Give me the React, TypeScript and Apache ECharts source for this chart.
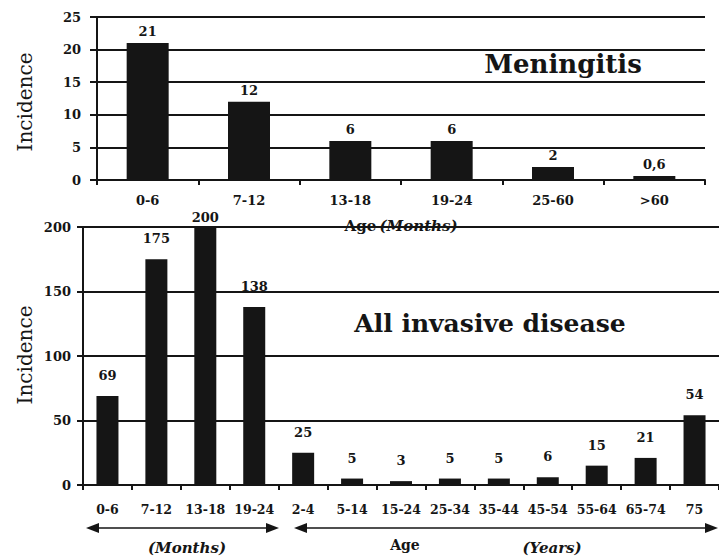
import React, { useEffect, useRef } from "react";
import * as echarts from "echarts";

const menCategories = ["0-6", "7-12", "13-18", "19-24", "25-60", ">60"];
const menValues = [21, 12, 6, 6, 2, 0.6];
const menTicks = [0, 5, 10, 15, 20, 25];

const allCategories = ["0-6", "7-12", "13-18", "19-24", "2-4", "5-14", "15-24", "25-34", "35-44", "45-54", "55-64", "65-74", "75"];
const allValues = [69, 175, 200, 138, 25, 5, 3, 5, 5, 6, 15, 21, 54];
const allTicks = [0, 50, 100, 150, 200];

const LBL = "DejaVu Serif";
const INK = "#151515";

export default function App() {
  const ref = useRef<HTMLDivElement>(null);
  useEffect(() => {
    if (!ref.current) return;
    const chart = echarts.init(ref.current, undefined, { renderer: "svg" });
    const axisLine = { show: true, lineStyle: { color: INK, width: 2 } };
    const split = { show: true, lineStyle: { color: INK, width: 2 } };
    const labelFont = { fontFamily: LBL, fontWeight: "bold" as const, fontSize: 13, color: INK };

    const arrowLine = (x1: number, x2: number, y: number) => [
      { type: "line", shape: { x1: x1 + 6, y1: y, x2: x2 - 6, y2: y }, style: { stroke: INK, lineWidth: 1.5 } },
      { type: "polygon", shape: { points: [[x1, y], [x1 + 13, y - 5], [x1 + 13, y + 5]] }, style: { fill: INK } },
      { type: "polygon", shape: { points: [[x2, y], [x2 - 13, y - 5], [x2 - 13, y + 5]] }, style: { fill: INK } },
    ];
    const txt = (
      text: string,
      x: number,
      y: number,
      fontFamily: string,
      fontSize: number,
      fontWeight: string,
      fontStyle: string,
      rotation = 0
    ) => ({
      type: "text",
      x,
      y,
      rotation,
      style: {
        text,
        fontFamily,
        fontSize,
        fontWeight,
        fontStyle,
        fill: INK,
        align: "center",
        verticalAlign: "middle",
        textAlign: "center",
        textVerticalAlign: "middle",
      },
    });

    chart.setOption({
      animation: false,
      backgroundColor: "#ffffff",
      grid: [
        { left: 97, top: 17, width: 608, height: 163 },
        { left: 83, top: 227, width: 643, height: 258 },
      ],
      xAxis: [
        {
          type: "category",
          gridIndex: 0,
          data: menCategories,
          axisLine,
          axisTick: { show: true, length: 5, lineStyle: { color: INK, width: 2 } },
          axisLabel: { ...labelFont, margin: 14, interval: 0 },
          name: "{a|Age} {b|(Months)}",
          nameLocation: "middle",
          nameGap: 38,
          nameTextStyle: {
            rich: {
              a: { fontFamily: LBL, fontWeight: "bold", fontSize: 15, color: INK },
              b: { fontFamily: LBL, fontWeight: "bold", fontStyle: "italic", fontSize: 15, color: INK },
            },
          },
        },
        {
          type: "category",
          gridIndex: 1,
          data: allCategories,
          axisLine,
          axisTick: { show: true, length: 5, lineStyle: { color: INK, width: 2 } },
          axisLabel: { ...labelFont, fontSize: 12.5, margin: 18, interval: 0 },
        },
      ],
      yAxis: [
        {
          type: "value",
          gridIndex: 0,
          min: menTicks[0],
          max: menTicks[menTicks.length - 1],
          interval: 5,
          axisLine,
          axisTick: { show: true, length: 7, lineStyle: { color: INK, width: 2 } },
          axisLabel: { ...labelFont, fontSize: 13, margin: 16 },
          splitLine: split,
        },
        {
          type: "value",
          gridIndex: 1,
          min: allTicks[0],
          max: allTicks[allTicks.length - 1],
          interval: 50,
          axisLine,
          axisTick: { show: true, length: 6, lineStyle: { color: INK, width: 2 } },
          axisLabel: { ...labelFont, fontSize: 13, margin: 12 },
          splitLine: split,
        },
      ],
      series: [
        {
          type: "bar",
          xAxisIndex: 0,
          yAxisIndex: 0,
          data: menValues,
          barWidth: 42,
          itemStyle: { color: INK },
          label: {
            show: true,
            position: "top",
            distance: 5,
            ...labelFont,
            formatter: (p: any) => String(p.value).replace(".", ","),
          },
        },
        {
          type: "bar",
          xAxisIndex: 1,
          yAxisIndex: 1,
          data: allValues.map((v, i) =>
            i === 2 ? { value: v, label: { distance: 3 } } : v
          ),
          barWidth: 22,
          itemStyle: { color: INK },
          label: { show: true, position: "top", distance: 14, ...labelFont },
        },
      ],
      graphic: [
        txt("Meningitis", 563, 64, LBL, 26, "bold", "normal"),
        txt("All invasive disease", 490, 323, LBL, 25, "bold", "normal"),
        txt("Incidence", 25, 102, LBL, 20, "normal", "normal", Math.PI / 2),
        txt("Incidence", 25, 355, LBL, 20, "normal", "normal", Math.PI / 2),
        ...arrowLine(86, 279, 528),
        ...arrowLine(294, 718, 528),
        txt("(Months)", 187, 548, LBL, 15, "bold", "italic"),
        txt("Age", 405, 545, LBL, 14, "bold", "normal"),
        txt("(Years)", 552, 548, LBL, 15, "bold", "italic"),
      ],
    });
    return () => chart.dispose();
  }, []);
  return (
    <div
      ref={ref}
      style={{ position: "fixed", left: 0, top: 0, width: 719, height: 559, background: "#fff" }}
    />
  );
}
